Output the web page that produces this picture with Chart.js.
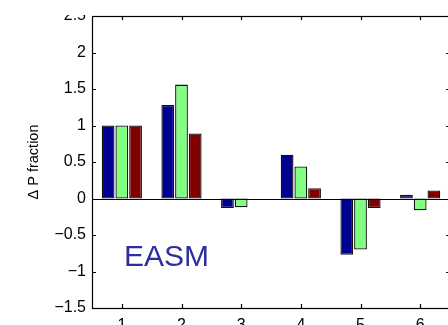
<!DOCTYPE html>
<html>
<head>
<meta charset="utf-8">
<script src="https://cdn.jsdelivr.net/npm/chart.js@4/dist/chart.umd.min.js"></script>
<style>
  html, body { margin: 0; padding: 0; background: #fff; overflow: hidden; }
  canvas { display: block; }
</style>
</head>
<body>
<canvas id="myChart" width="452" height="325"></canvas>
<script>
const categories = ['1', '2', '3', '4', '5', '6'];
const blueValues = [1.00, 1.28, -0.13, 0.60, -0.77, 0.05];
const greenValues = [1.00, 1.56, -0.12, 0.44, -0.70, -0.16];
const redValues = [1.00, 0.89, 0.00, 0.14, -0.13, 0.11];
const yMin = -1.5;
const yMax = 2.5;
const yStep = 0.5;

const FONT = '"Liberation Sans", Arial, Helvetica, sans-serif';

// box around the plot with inward tick marks, zero baseline, region label
const boxPlugin = {
  id: 'boxPlugin',
  afterDatasetsDraw(chart) {
    const ctx = chart.ctx;
    const a = chart.chartArea;
    const xs = chart.scales.x;
    const ys = chart.scales.y;
    ctx.save();
    ctx.strokeStyle = '#000';
    ctx.lineWidth = 1.2;

    // baseline at zero
    const y0 = Math.round(ys.getPixelForValue(0)) + 0.5;
    ctx.beginPath();
    ctx.moveTo(a.left, y0);
    ctx.lineTo(a.right, y0);
    ctx.stroke();

    ctx.strokeRect(Math.round(a.left) + 0.5, Math.round(a.top) + 0.5,
      Math.round(a.right - a.left), Math.round(a.bottom - a.top));

    const len = 4;
    ctx.beginPath();
    ys.ticks.forEach(t => {
      const py = Math.round(ys.getPixelForValue(t.value)) + 0.5;
      ctx.moveTo(a.left, py); ctx.lineTo(a.left + len, py);
      ctx.moveTo(a.right, py); ctx.lineTo(a.right - len, py);
    });
    categories.forEach((c, i) => {
      const px = Math.round(xs.getPixelForValue(i)) + 0.5;
      ctx.moveTo(px, a.bottom); ctx.lineTo(px, a.bottom - len);
      ctx.moveTo(px, a.top); ctx.lineTo(px, a.top + len);
    });
    ctx.stroke();
    ctx.restore();
  },
  afterDraw(chart) {
    const ctx = chart.ctx;
    const a = chart.chartArea;
    ctx.save();
    // top strip is cut off above the frame
    ctx.fillStyle = '#fff';
    ctx.fillRect(0, 0, a.left - 1, a.top - 1);

    ctx.fillStyle = '#2e2e9e';
    ctx.font = '30px ' + FONT;
    ctx.textBaseline = 'alphabetic';
    ctx.fillText('EASM', 124, 266);
    ctx.restore();
  }
};

const ctx = document.getElementById('myChart').getContext('2d');

const chartData = {
  labels: categories,
  datasets: [
    { label: 'a', data: blueValues, backgroundColor: '#000090' },
    { label: 'b', data: greenValues, backgroundColor: '#80ff80' },
    { label: 'c', data: redValues, backgroundColor: '#800000' }
  ].map(d => Object.assign(d, {
    borderColor: '#111',
    borderWidth: 1.3,
    borderSkipped: false,
    categoryPercentage: 0.69,
    barPercentage: 0.93
  }))
};

const config = {
  type: 'bar',
  data: chartData,
  options: {
    responsive: false,
    animation: false,
    layout: { padding: { top: 16, right: 2, left: 0, bottom: 0 } },
    plugins: {
      legend: { display: false },
      tooltip: { enabled: false }
    },
    scales: {
      x: {
        offset: true,
        grid: { display: false, drawTicks: false },
        border: { display: false },
        ticks: {
          color: '#000',
          font: { family: FONT, size: 16 },
          padding: 8,
          maxRotation: 0
        },
        afterFit(scale) { scale.height = 17; }
      },
      y: {
        min: yMin,
        max: yMax,
        grid: { display: false, drawTicks: false },
        border: { display: false },
        ticks: {
          stepSize: yStep,
          color: '#000',
          font: { family: FONT, size: 16 },
          padding: 6,
          callback: v => String(v).replace('-', '\u2212')
        },
        title: {
          display: true,
          text: '\u0394 P fraction',
          color: '#000',
          font: { family: FONT, size: 14.5 },
          padding: { top: 25, bottom: 0 }
        },
        afterFit(scale) { scale.width = 92; }
      }
    }
  },
  plugins: [boxPlugin]
};

const myChart = new Chart(ctx, config);
</script>
</body>
</html>
